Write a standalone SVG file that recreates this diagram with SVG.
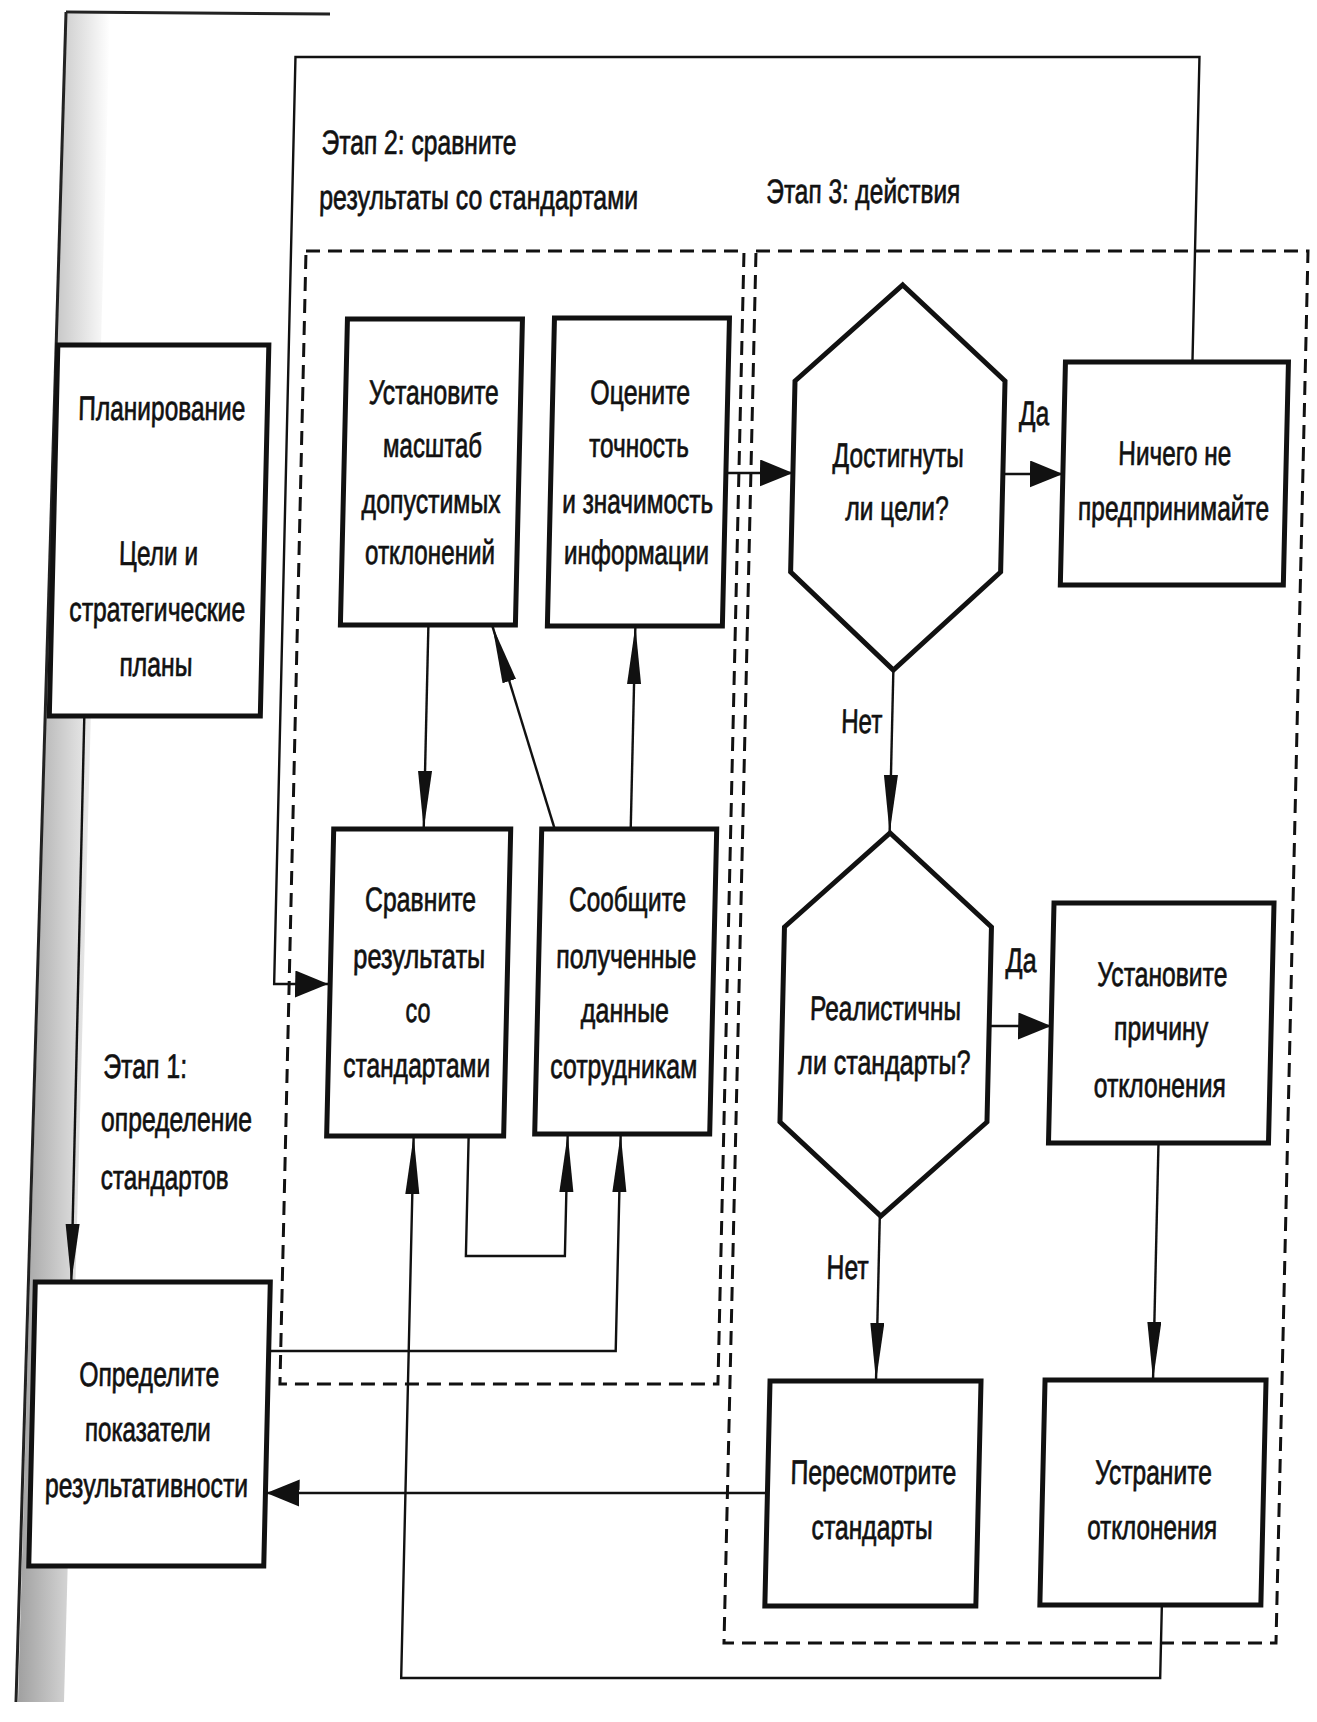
<svg xmlns="http://www.w3.org/2000/svg" width="1317" height="1722" viewBox="0 0 1317 1722">
<defs>
<style>
.box{fill:#fff;stroke:#111;stroke-width:5}
.hex{fill:#fff;stroke:#111;stroke-width:5;stroke-linejoin:miter}
.stage{fill:none;stroke:#111;stroke-width:3;stroke-dasharray:14 8}
.conn{fill:none;stroke:#111;stroke-width:2.4}
.t{font-family:"Liberation Sans Narrow","Liberation Sans",Arial,sans-serif;font-size:34px;fill:#111;stroke:#111;stroke-width:0.7;text-anchor:middle}
.l{text-anchor:start}
</style>
<linearGradient id="shade" x1="0" y1="0" x2="1" y2="0">
<stop offset="0" stop-color="#a0a0a0"/>
<stop offset="1" stop-color="#ffffff"/>
</linearGradient>
<marker id="ah" markerUnits="userSpaceOnUse" markerWidth="34" markerHeight="28" refX="33" refY="13.5" orient="auto">
<path d="M0,0 L33,13.5 L0,27 z" fill="#111"/>
</marker>
<marker id="av" markerUnits="userSpaceOnUse" markerWidth="59" markerHeight="15" refX="58" refY="7" orient="auto">
<path d="M0,0 L58,7 L0,14 z" fill="#111"/>
</marker>
</defs>
<rect width="1317" height="1722" fill="#fff"/>
<g id="scan-edge">
<polygon points="66,14 110,14 64,1702 18,1702" fill="url(#shade)"/>
<line x1="66" y1="12" x2="16" y2="1702" stroke="#222" stroke-width="3"/>
<line x1="66" y1="12" x2="330" y2="14" stroke="#222" stroke-width="3"/>
</g>
<g transform="matrix(1 0 -0.023 1 19.78 0)">
<g id="stage2">
<rect class="stage" x="292" y="251" width="438" height="1133"/>
<text class="t l" x="305" y="154" textLength="195" lengthAdjust="spacingAndGlyphs">Этап 2: сравните</text>
<text class="t l" x="304" y="209" textLength="319" lengthAdjust="spacingAndGlyphs">результаты со стандартами</text>
</g>
<g id="stage3">
<rect class="stage" x="742" y="251" width="552" height="1392"/>
<text class="t l" x="751" y="203" textLength="194" lengthAdjust="spacingAndGlyphs">Этап 3: действия</text>
</g>
<g id="stage1">
<text class="t l" x="108" y="1078" textLength="84" lengthAdjust="spacingAndGlyphs">Этап 1:</text>
<text class="t l" x="107" y="1131" textLength="151" lengthAdjust="spacingAndGlyphs">определение</text>
<text class="t l" x="108" y="1189" textLength="128" lengthAdjust="spacingAndGlyphs">стандартов</text>
</g>
<g id="connectors">
<path class="conn" d="M1181,362 V57 H277 V984 H331" marker-end="url(#ah)"/>
<path class="conn" d="M423,625 V829" marker-end="url(#av)"/>
<path class="conn" d="M630,829 V626" marker-end="url(#av)"/>
<path class="conn" d="M554,829 L487,626" marker-end="url(#av)"/>
<path class="conn" d="M717,473 H784" marker-end="url(#ah)"/>
<path class="conn" d="M994,474 H1054" marker-end="url(#ah)"/>
<path class="conn" d="M889,670 V833" marker-end="url(#av)"/>
<path class="conn" d="M993,1026 H1055" marker-end="url(#ah)"/>
<path class="conn" d="M888,1216 V1381" marker-end="url(#av)"/>
<path class="conn" d="M1165,1143 V1380" marker-end="url(#av)"/>
<path class="conn" d="M1179,1605 V1678 H420 V1136" marker-end="url(#av)"/>
<path class="conn" d="M475,1136 V1256 H574 V1134" marker-end="url(#av)"/>
<path class="conn" d="M280,1351 H627 V1134" marker-end="url(#av)"/>
<path class="conn" d="M782,1493 H281" marker-end="url(#ah)"/>
<path class="conn" d="M81,716 V1282" marker-end="url(#av)"/>
<text class="t l" x="1009" y="425" textLength="30" lengthAdjust="spacingAndGlyphs">Да</text>
<text class="t l" x="838" y="733" textLength="41" lengthAdjust="spacingAndGlyphs">Нет</text>
<text class="t l" x="1008" y="972" textLength="31" lengthAdjust="spacingAndGlyphs">Да</text>
<text class="t l" x="836" y="1279" textLength="42" lengthAdjust="spacingAndGlyphs">Нет</text>
</g>
<g id="planning">
<rect class="box" x="46" y="345" width="211" height="371"/>
<text class="t" x="151.5" y="420" textLength="167" lengthAdjust="spacingAndGlyphs">Планирование</text>
<text class="t" x="151.5" y="565" textLength="79" lengthAdjust="spacingAndGlyphs">Цели и</text>
<text class="t" x="151.5" y="621" textLength="176" lengthAdjust="spacingAndGlyphs">стратегические</text>
<text class="t" x="151.5" y="676" textLength="73" lengthAdjust="spacingAndGlyphs">планы</text>
</g>
<g id="define-indicators">
<rect class="box" x="45" y="1282" width="235" height="284"/>
<text class="t" x="161" y="1386" textLength="140" lengthAdjust="spacingAndGlyphs">Определите</text>
<text class="t" x="161" y="1441" textLength="126" lengthAdjust="spacingAndGlyphs">показатели</text>
<text class="t" x="161" y="1497" textLength="203" lengthAdjust="spacingAndGlyphs">результативности</text>
</g>
<g id="set-scale">
<rect class="box" x="335" y="319" width="175" height="306"/>
<text class="t" x="423" y="404" textLength="130" lengthAdjust="spacingAndGlyphs">Установите</text>
<text class="t" x="423" y="457" textLength="99" lengthAdjust="spacingAndGlyphs">масштаб</text>
<text class="t" x="423" y="513" textLength="139" lengthAdjust="spacingAndGlyphs">допустимых</text>
<text class="t" x="423" y="564" textLength="130" lengthAdjust="spacingAndGlyphs">отклонений</text>
</g>
<g id="evaluate">
<rect class="box" x="542" y="318" width="175" height="308"/>
<text class="t" x="629.5" y="404" textLength="100" lengthAdjust="spacingAndGlyphs">Оцените</text>
<text class="t" x="629.5" y="457" textLength="100" lengthAdjust="spacingAndGlyphs">точность</text>
<text class="t" x="629.5" y="513" textLength="151" lengthAdjust="spacingAndGlyphs">и значимость</text>
<text class="t" x="629.5" y="564" textLength="145" lengthAdjust="spacingAndGlyphs">информации</text>
</g>
<g id="compare">
<rect class="box" x="333" y="829" width="177" height="307"/>
<text class="t" x="421.5" y="911" textLength="111" lengthAdjust="spacingAndGlyphs">Сравните</text>
<text class="t" x="421.5" y="968" textLength="132" lengthAdjust="spacingAndGlyphs">результаты</text>
<text class="t" x="421.5" y="1022" textLength="25" lengthAdjust="spacingAndGlyphs">со</text>
<text class="t" x="421.5" y="1077" textLength="147" lengthAdjust="spacingAndGlyphs">стандартами</text>
</g>
<g id="report">
<rect class="box" x="541" y="829" width="175" height="305"/>
<text class="t" x="628.5" y="911" textLength="117" lengthAdjust="spacingAndGlyphs">Сообщите</text>
<text class="t" x="628.5" y="968" textLength="140" lengthAdjust="spacingAndGlyphs">полученные</text>
<text class="t" x="628.5" y="1022" textLength="88" lengthAdjust="spacingAndGlyphs">данные</text>
<text class="t" x="628.5" y="1078" textLength="147" lengthAdjust="spacingAndGlyphs">сотрудникам</text>
</g>
<g id="goals-achieved">
<polygon class="hex" points="889.5,285 994,381 994,572 889,670 784,572 784,381"/>
<text class="t" x="889" y="467" textLength="131" lengthAdjust="spacingAndGlyphs">Достигнуты</text>
<text class="t" x="889" y="520" textLength="103" lengthAdjust="spacingAndGlyphs">ли цели?</text>
</g>
<g id="do-nothing">
<rect class="box" x="1054" y="362" width="223" height="223"/>
<text class="t" x="1165.5" y="465" textLength="113" lengthAdjust="spacingAndGlyphs">Ничего не</text>
<text class="t" x="1165.5" y="520" textLength="191" lengthAdjust="spacingAndGlyphs">предпринимайте</text>
</g>
<g id="standards-realistic">
<polygon class="hex" points="889.5,833 993,927 993,1122 889,1216 786,1122 786,927"/>
<text class="t" x="889" y="1020" textLength="151" lengthAdjust="spacingAndGlyphs">Реалистичны</text>
<text class="t" x="889" y="1074" textLength="172" lengthAdjust="spacingAndGlyphs">ли стандарты?</text>
</g>
<g id="find-cause">
<rect class="box" x="1055" y="903" width="220" height="240"/>
<text class="t" x="1165" y="986" textLength="130" lengthAdjust="spacingAndGlyphs">Установите</text>
<text class="t" x="1165" y="1040" textLength="94" lengthAdjust="spacingAndGlyphs">причину</text>
<text class="t" x="1165" y="1097" textLength="132" lengthAdjust="spacingAndGlyphs">отклонения</text>
</g>
<g id="revise-standards">
<rect class="box" x="782" y="1381" width="211" height="225"/>
<text class="t" x="887.5" y="1484" textLength="166" lengthAdjust="spacingAndGlyphs">Пересмотрите</text>
<text class="t" x="887.5" y="1539" textLength="121" lengthAdjust="spacingAndGlyphs">стандарты</text>
</g>
<g id="fix-deviations">
<rect class="box" x="1057" y="1380" width="221" height="225"/>
<text class="t" x="1167.5" y="1484" textLength="117" lengthAdjust="spacingAndGlyphs">Устраните</text>
<text class="t" x="1167.5" y="1539" textLength="130" lengthAdjust="spacingAndGlyphs">отклонения</text>
</g>
</g>
</svg>
